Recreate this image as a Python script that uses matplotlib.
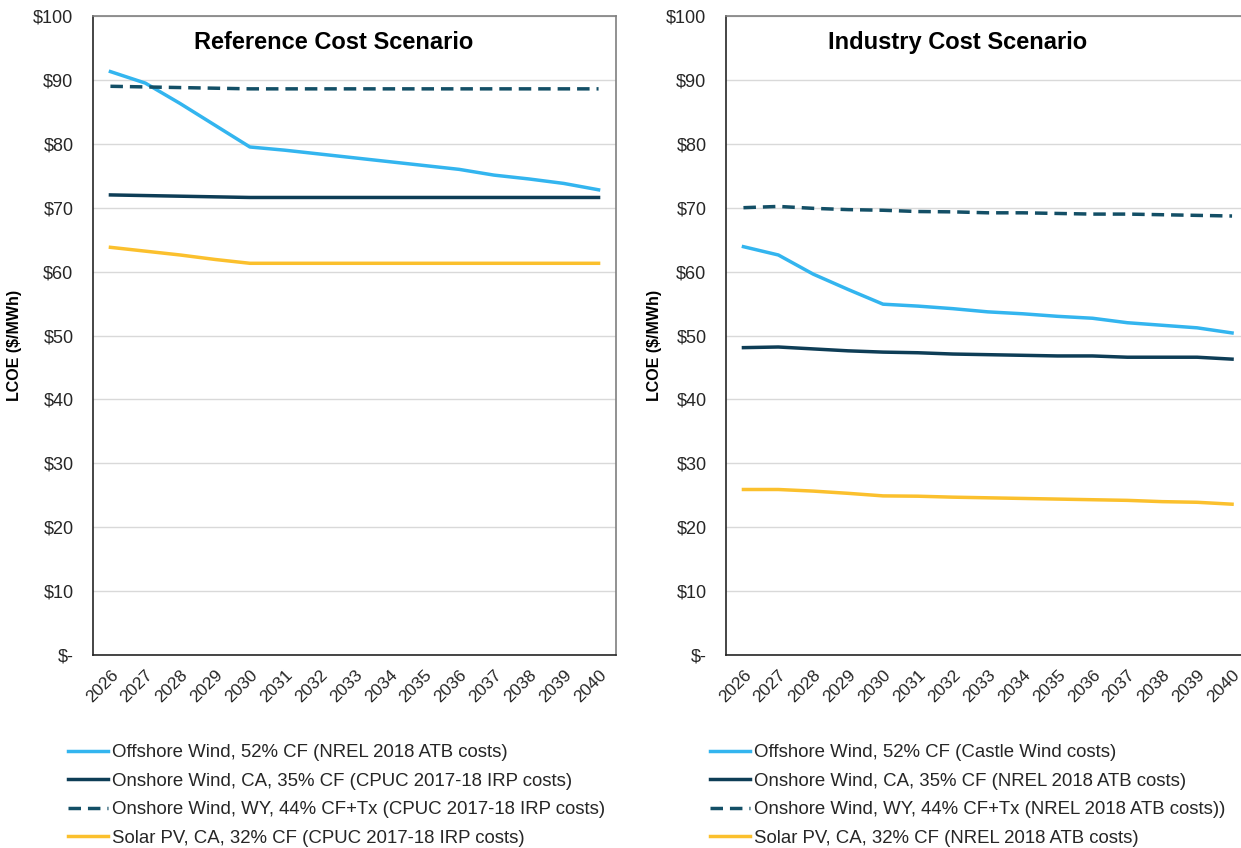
import matplotlib
matplotlib.use("Agg")
import matplotlib.pyplot as plt
from matplotlib.ticker import FixedLocator

plt.rcParams['font.family'] = ['Liberation Sans', 'DejaVu Sans']

years = [str(y) for y in range(2026, 2041)]

# Reference Cost Scenario
ref_offshore = [91.3, 89.5, 86.3, 82.9, 79.5, 79.0, 78.4, 77.8, 77.2, 76.6, 76.0, 75.1, 74.5, 73.8, 72.8]
ref_onshore_ca = [72.0, 71.9, 71.8, 71.7, 71.6, 71.6, 71.6, 71.6, 71.6, 71.6, 71.6, 71.6, 71.6, 71.6, 71.6]
ref_onshore_wy = [89.0, 88.9, 88.8, 88.7, 88.6, 88.6, 88.6, 88.6, 88.6, 88.6, 88.6, 88.6, 88.6, 88.6, 88.6]
ref_solar = [63.8, 63.2, 62.6, 61.9, 61.3, 61.3, 61.3, 61.3, 61.3, 61.3, 61.3, 61.3, 61.3, 61.3, 61.3]

# Industry Cost Scenario
ind_offshore = [63.9, 62.6, 59.6, 57.2, 54.9, 54.6, 54.2, 53.7, 53.4, 53.0, 52.7, 52.0, 51.6, 51.2, 50.4]
ind_onshore_ca = [48.1, 48.2, 47.9, 47.6, 47.4, 47.3, 47.1, 47.0, 46.9, 46.8, 46.8, 46.6, 46.6, 46.6, 46.3]
ind_onshore_wy = [70.0, 70.2, 69.9, 69.7, 69.6, 69.4, 69.35, 69.2, 69.2, 69.1, 69.0, 69.0, 68.9, 68.8, 68.7]
ind_solar = [25.9, 25.9, 25.65, 25.3, 24.9, 24.85, 24.7, 24.6, 24.5, 24.4, 24.3, 24.2, 24.0, 23.9, 23.6]

ref_labels = ["Offshore Wind, 52% CF (NREL 2018 ATB costs)",
              "Onshore Wind, CA, 35% CF (CPUC 2017-18 IRP costs)",
              "Onshore Wind, WY, 44% CF+Tx (CPUC 2017-18 IRP costs)",
              "Solar PV, CA, 32% CF (CPUC 2017-18 IRP costs)"]
ind_labels = ["Offshore Wind, 52% CF (Castle Wind costs)",
              "Onshore Wind, CA, 35% CF (NREL 2018 ATB costs)",
              "Onshore Wind, WY, 44% CF+Tx (NREL 2018 ATB costs))",
              "Solar PV, CA, 32% CF (NREL 2018 ATB costs)"]

yticks = [0, 10, 20, 30, 40, 50, 60, 70, 80, 90, 100]
ytick_labels = ["$-", "$10", "$20", "$30", "$40", "$50", "$60", "$70", "$80", "$90", "$100"]

c_off = "#33B5EF"
c_ca = "#0E3D56"
c_wy = "#134F66"
c_sol = "#FBC02D"

W, H = 1241, 848
fig = plt.figure(figsize=(W / 100, H / 100), dpi=100)

def make_ax(left_px, right_px, title, tx, series, labels, leg_x, ylab_px):
    ax = fig.add_axes([left_px / W, 1 - 655 / H, (right_px - left_px) / W, (655 - 16) / H])
    x = list(range(len(years)))
    off, ca, wy, sol = series
    l1, = ax.plot(x, off, color=c_off, lw=2.5)
    l2, = ax.plot(x, ca, color=c_ca, lw=2.5)
    l3, = ax.plot(x, wy, color=c_wy, lw=2.5, dashes=(3.6, 2.0))
    l4, = ax.plot(x, sol, color=c_sol, lw=2.5)
    ax.set_xlim(-0.5, len(years) - 0.5)
    ax.set_ylim(0, 100)
    ax.yaxis.set_major_locator(FixedLocator(yticks))
    ax.set_yticklabels(ytick_labels, fontsize=13, color="#262626")
    ax.set_xticks(x)
    ax.set_xticklabels(years, rotation=45, ha='right', rotation_mode='anchor',
                       fontsize=12.5, color="#262626")
    ax.tick_params(axis='y', length=0, pad=14)
    ax.tick_params(axis='x', length=0, pad=9)
    ax.grid(axis='y', color="#D9D9D9", lw=1)
    ax.set_axisbelow(True)
    for s in ax.spines.values():
        s.set_color("#7F7F7F")
        s.set_linewidth(1.2)
    ax.spines['left'].set_color("#262626")
    ax.spines['bottom'].set_color("#262626")
    ax.text(tx, 0.959, title, transform=ax.transAxes, ha='center', va='center',
            fontsize=17, fontweight='bold', color="#000000")
    ax.set_ylabel("LCOE ($/MWh)", fontsize=11.5, fontweight='bold', color="#000000")
    ax.yaxis.set_label_coords((ylab_px - left_px) / (right_px - left_px), 0.485)
    fig.legend([l1, l2, l3, l4], labels, loc='upper left',
               bbox_to_anchor=(leg_x / W, 1 - 744 / H), frameon=False,
               fontsize=13.4, handlelength=2.15, handletextpad=0.2,
               labelspacing=0.62, borderaxespad=0, borderpad=0,
               labelcolor="#262626")
    return ax

make_ax(93, 616, "Reference Cost Scenario", 0.461,
        (ref_offshore, ref_onshore_ca, ref_onshore_wy, ref_solar), ref_labels, 68, 22)
make_ax(726, 1249.5, "Industry Cost Scenario", 0.442,
        (ind_offshore, ind_onshore_ca, ind_onshore_wy, ind_solar), ind_labels, 710, 662)

fig.savefig("out.png", dpi=100)
